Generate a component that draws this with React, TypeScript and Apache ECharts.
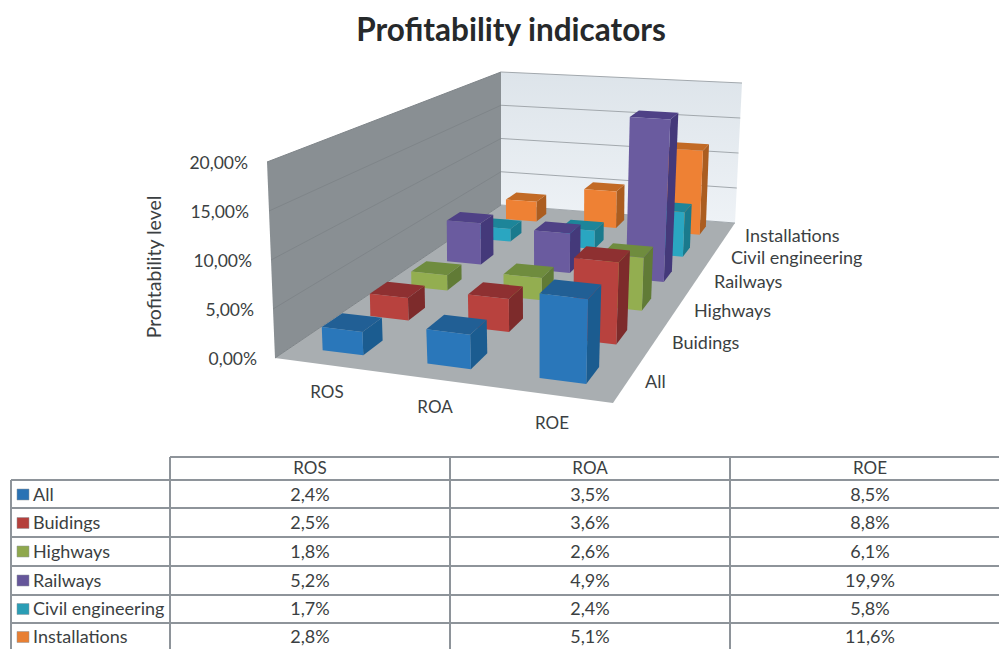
import React, { useEffect, useRef } from "react";
import * as echarts from "echarts";

const metrics = ["ROS", "ROA", "ROE"];
const rows = ["All", "Buidings", "Highways", "Railways", "Civil engineering", "Installations"];
const allValues = [2.4, 3.5, 8.5];
const buildingsValues = [2.5, 3.6, 8.8];
const highwaysValues = [1.8, 2.6, 6.1];
const railwaysValues = [5.2, 4.9, 19.9];
const civilValues = [1.7, 2.4, 5.8];
const installationsValues = [2.8, 5.1, 11.6];
const rowValues = [allValues, buildingsValues, highwaysValues, railwaysValues, civilValues, installationsValues];
const yTicks = [0, 5, 10, 15, 20];

// colours: [front, side, top, swatch]
const palette = [
  ["#2a77ba", "#1b5c90", "#215f95", "#2a72b4"],
  ["#b8423e", "#7d2b2b", "#8e3031", "#b5403c"],
  ["#93ae50", "#617b36", "#6f8c3e", "#8fa84d"],
  ["#6a5b9f", "#44397a", "#4f4186", "#65569a"],
  ["#2aa6c1", "#1a7a8d", "#1d8599", "#2a9db5"],
  ["#ee8134", "#ab5d20", "#c26a25", "#e87f33"],
];

const TEXT = "#3b3f42";
const FONT = "Lato";
const GRID = { left: 275, top: 162, width: 338, height: 196 };
const BAR_HALF_U = 0.066;
const BAR_HALF_V = 0.034;
const BAR_ROW_CENTER = 0.52;

type P = [number, number];
function quad(p0: P, p1: P, p2: P, p3: P) {
  const dx1 = p1[0] - p2[0], dx2 = p3[0] - p2[0], sx = p0[0] - p1[0] + p2[0] - p3[0];
  const dy1 = p1[1] - p2[1], dy2 = p3[1] - p2[1], sy = p0[1] - p1[1] + p2[1] - p3[1];
  const den = dx1 * dy2 - dx2 * dy1;
  const g = (sx * dy2 - dx2 * sy) / den;
  const h = (dx1 * sy - sx * dy1) / den;
  const a = p1[0] - p0[0] + g * p1[0], b = p3[0] - p0[0] + h * p3[0], c = p0[0];
  const d = p1[1] - p0[1] + g * p1[1], e = p3[1] - p0[1] + h * p3[1], f = p0[1];
  return (u: number, v: number): P => {
    const w = g * u + h * v + 1;
    return [(a * u + b * v + c) / w, (d * u + e * v + f) / w];
  };
}
const floorAt = quad([275, 358], [613, 403], [735, 223], [501, 205]);
const ceilAt = quad([267, 162], [621, 198], [742, 83], [501, 72]);
function project(u: number, v: number, t: number): P {
  const a = floorAt(u, v), b = ceilAt(u, v);
  return [a[0] + (b[0] - a[0]) * t, a[1] + (b[1] - a[1]) * t];
}

function renderBar(row: number) {
  return (params: any, api: any) => {
    const base = api.coord([api.value(0), 0]);
    const tip = api.coord([api.value(0), api.value(1)]);
    const full = api.coord([api.value(0), 20]);
    const u = (base[0] - params.coordSys.x) / params.coordSys.width;
    const t = (base[1] - tip[1]) / (base[1] - full[1]);
    const v = (row + BAR_ROW_CENTER) / rows.length;
    const u0 = u - BAR_HALF_U, u1 = u + BAR_HALF_U, v0 = v - BAR_HALF_V, v1 = v + BAR_HALF_V;
    const c = palette[row];
    const poly = (pts: P[], fill: any) => ({ type: "polygon", shape: { points: pts }, style: { fill, stroke: null } });
    return {
      type: "group",
      children: [
        poly([project(u1, v0, 0), project(u1, v1, 0), project(u1, v1, t), project(u1, v0, t)], c[1]),
        poly([project(u0, v0, t), project(u1, v0, t), project(u1, v1, t), project(u0, v1, t)], c[2]),
        poly([project(u0, v0, 0), project(u1, v0, 0), project(u1, v0, t), project(u0, v0, t)], c[0]),
      ],
    };
  };
}

function renderWalls(params: any, api: any) {
  const y0 = api.coord([0, 0])[1], y20 = api.coord([0, 20])[1];
  const frac = (val: number) => (y0 - api.coord([0, val])[1]) / (y0 - y20);
  const children: any[] = [
    { type: "polygon", shape: { points: [project(0, 0, 0), project(1, 0, 0), project(1, 1, 0), project(0, 1, 0)] }, style: { fill: "#a9aeb1" } },
    { type: "polygon", shape: { points: [project(0, 0, 0), project(0, 1, 0), project(0, 1, 1), project(0, 0, 1)] }, style: { fill: "#898f93" } },
    {
      type: "polygon",
      shape: { points: [project(0, 1, 0), project(1, 1, 0), project(1, 1, 1), project(0, 1, 1)] },
      style: { fill: new echarts.graphic.LinearGradient(0, 0, 0, 1, [{ offset: 0, color: "#dde4ea" }, { offset: 1, color: "#eef2f6" }]) },
    },
  ];
  yTicks.forEach((tick) => {
    const t = frac(tick);
    const a = project(0, 0, t), b = project(0, 1, t), c = project(1, 1, t);
    children.push({ type: "line", shape: { x1: a[0], y1: a[1], x2: b[0], y2: b[1] }, style: { stroke: "#7f8589", lineWidth: 1 } });
    children.push({ type: "line", shape: { x1: b[0], y1: b[1], x2: c[0], y2: c[1] }, style: { stroke: "#a2a8ad", lineWidth: 1 } });
  });
  return { type: "group", children };
}

const label = (text: string, x: number, y: number, fontSize: number, align = "left", weight: any = "normal") => ({
  type: "text",
  x,
  y: y - 1,
  style: { text, fontFamily: FONT, fontSize, fontWeight: weight, fill: TEXT, align, verticalAlign: "middle" },
  silent: true,
});
const rule = (x1: number, y1: number, x2: number, y2: number) => ({
  type: "line",
  shape: { x1, y1, x2, y2 },
  style: { stroke: "#8e949a", lineWidth: 2 },
  silent: true,
});

const METRIC_LABEL_POS: P[] = [[327, 392], [435, 407], [552, 423]];
const ROW_LABEL_POS: P[] = [[645, 382], [672, 343], [694, 311], [714, 282], [731, 258], [745, 236]];
const COL_X = [170, 450, 730];
const COL_CENTER = [310, 590, 870];
const HEAD_Y = 468;
const ROW_LINES = [480, 508, 537, 566, 595, 623];
const ROW_CENTER = [494.5, 523, 551.5, 580.5, 609, 637];
const TICK_PAD = [0, 3, 5, 8, 9];

const fmt = (val: number) => val.toFixed(1).replace(".", ",") + "%";

export default function App() {
  const ref = useRef<HTMLDivElement>(null);
  useEffect(() => {
    document.body.style.margin = "0";
    const chart = echarts.init(ref.current!, undefined, { renderer: "svg" });
    const graphics: any[] = [];
    metrics.forEach((m, i) => graphics.push(label(m, METRIC_LABEL_POS[i][0], METRIC_LABEL_POS[i][1], 17, "center")));
    rows.forEach((r, i) => graphics.push(label(r, ROW_LABEL_POS[i][0], ROW_LABEL_POS[i][1], 18)));
    // table
    graphics.push(rule(170, 457, 1000, 457));
    graphics.push(rule(11, ROW_LINES[0], 1000, ROW_LINES[0]));
    graphics.push(rule(11, ROW_LINES[0], 11, 649));
    COL_X.forEach((x) => graphics.push(rule(x, 457, x, 649)));
    ROW_LINES.slice(1).forEach((y) => graphics.push(rule(11, y, 1000, y)));
    metrics.forEach((m, i) => graphics.push(label(m, COL_CENTER[i], HEAD_Y, 17, "center")));
    rows.forEach((r, i) => {
      graphics.push({
        type: "rect",
        shape: { x: 17, y: ROW_CENTER[i] - 5.5, width: 12, height: 11 },
        style: { fill: palette[i][3], stroke: "#8e949a", lineWidth: 0.5 },
        silent: true,
      });
      graphics.push(label(r, 33, ROW_CENTER[i], 18));
      rowValues[i].forEach((val, j) => graphics.push(label(fmt(val), COL_CENTER[j], ROW_CENTER[i], 18, "center")));
    });

    const rich: any = {};
    yTicks.forEach((t, i) => {
      rich["t" + t] = { fontFamily: FONT, fontSize: 17.5, color: TEXT, padding: [0, TICK_PAD[i], 0, 0] };
    });

    chart.setOption({
      animation: false,
      backgroundColor: "#fff",
      title: {
        text: "Profitability indicators",
        left: 506,
        top: 8,
        textAlign: "center",
        textStyle: { fontFamily: FONT, fontSize: 31.5, fontWeight: "bold", color: "#26292b" },
      },
      grid: { ...GRID, containLabel: false },
      xAxis: { type: "category", data: metrics, show: false },
      yAxis: {
        type: "value",
        min: 0,
        max: 20,
        interval: 5,
        name: "Profitability level",
        nameLocation: "middle",
        nameGap: 112,
        nameRotate: 90,
        nameTextStyle: { fontFamily: FONT, fontSize: 19.5, color: TEXT, padding: [0, 14, 0, 0] },
        axisLine: { show: false },
        axisTick: { show: false },
        splitLine: { show: false },
        axisLabel: {
          margin: 18,
          formatter: (val: number) => `{t${val}|${val.toFixed(2).replace(".", ",")}%}`,
          rich,
        },
      },
      graphic: graphics,
      series: [
        { type: "custom", name: "walls", coordinateSystem: "cartesian2d", data: [[0, 0]], renderItem: renderWalls, silent: true, z: 1 },
        ...rows
          .map((r, i) => ({
            type: "custom",
            name: r,
            coordinateSystem: "cartesian2d",
            data: rowValues[i].map((val, j) => [j, val]),
            encode: { x: 0, y: 1 },
            renderItem: renderBar(i),
            silent: true,
            z: 10 + rows.length - i,
          }))
          .reverse(),
      ],
    });
    return () => chart.dispose();
  }, []);
  return <div ref={ref} style={{ position: "fixed", left: 0, top: 0, width: 999, height: 649 }} />;
}
